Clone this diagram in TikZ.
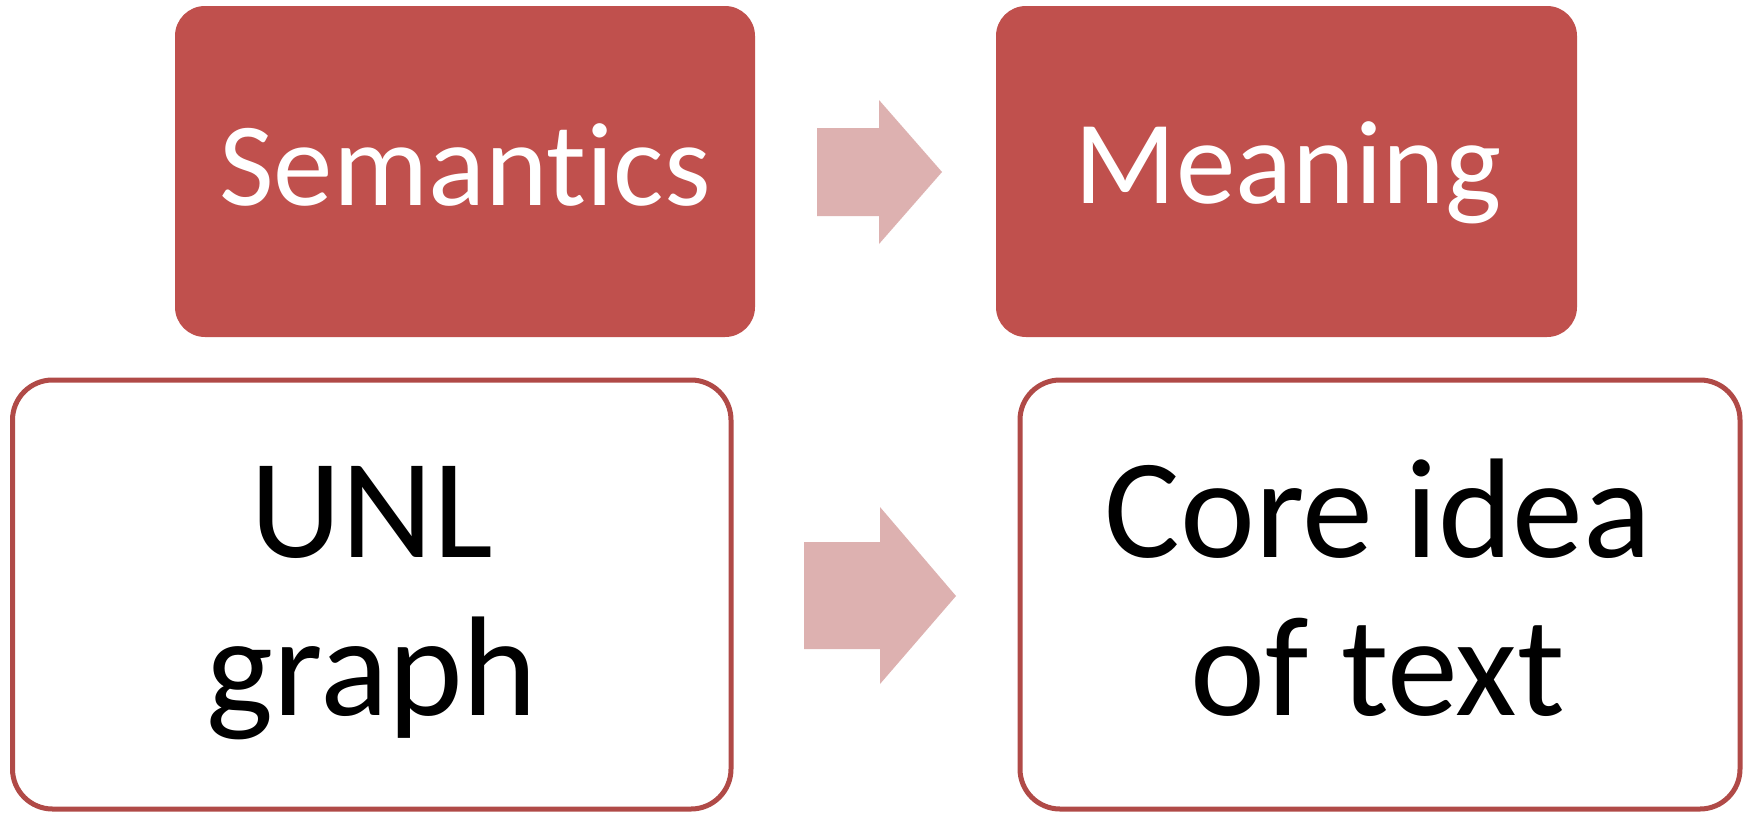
\documentclass[tikz,border=0pt]{standalone}
\usepackage{fontspec}
\setmainfont{Carlito}[Ligatures=NoCommon]
\definecolor{accentred}{HTML}{C0504D}
\definecolor{edgered}{HTML}{B04A47}
\definecolor{arrowpink}{HTML}{DDB1B0}
\tikzset{
  filledbox/.style={rectangle, rounded corners=30pt, fill=accentred, draw=none, inner sep=0pt},
  outlinebox/.style={rectangle, rounded corners=40pt, fill=white, draw=edgered, line width=5pt, inner sep=0pt},
  toplabel/.style={anchor=base, inner sep=0pt, text=white, font=\fontsize{119}{130}\selectfont},
  bottomlabel/.style={anchor=base, inner sep=0pt, text=black, align=center, font=\fontsize{142}{158}\selectfont},
  blockarrow/.style={fill=arrowpink, draw=none}
}
\begin{document}
\begin{tikzpicture}[x=1pt, y=-1pt]
  \useasboundingbox (0,0) rectangle (1743,812);
  \fill[white] (0,0) rectangle (1743,812);

  % upper row
  \node[filledbox, minimum width=580pt, minimum height=331pt] (sem) at (465,171.5) {};
  \node[filledbox, minimum width=581pt, minimum height=331pt] (mean) at (1286.5,171.5) {};
  \node[toplabel] (semtext) at (465,205) {Semantics};
  \node[toplabel] (meantext) at (1288,203) {Meaning};

  % lower row (anchor sits on the baseline of the last line)
  \node[outlinebox, minimum width=718.5pt, minimum height=429pt] (unl) at (371.75,594.5) {};
  \node[outlinebox, minimum width=720pt, minimum height=429pt] (core) at (1380,594.5) {};
  \node[bottomlabel] (unltext) at (372,715) {UNL\\graph};
  \node[bottomlabel] (coretext) at (1378,715) {Core idea\\of text};

  % block arrows between the boxes
  \fill[blockarrow] (817,128) -- (879,128) -- (879,100) -- (942,172)
        -- (879,244) -- (879,216) -- (817,216) -- cycle;
  \fill[blockarrow] (804,542) -- (880,542) -- (880,507) -- (956,596)
        -- (880,684) -- (880,649) -- (804,649) -- cycle;
\end{tikzpicture}
\end{document}
